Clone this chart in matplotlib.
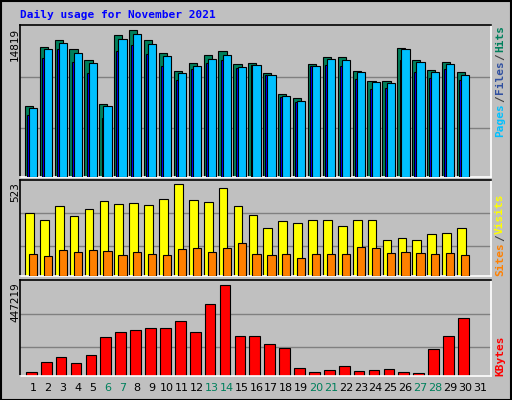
import matplotlib
matplotlib.use("Agg")
import matplotlib.pyplot as plt
import numpy as np

days = list(range(1, 32))
hits = [7150,13030,13770,12830,11720,7350,14320,14819,13770,12430,10690,11430,12230,12630,11330,11430,10420,8310,7910,11330,12030,12030,10690,9690,9690,12940,11720,10790,11530,10520]
files = [6960,12870,13470,12460,11460,7170,13870,14370,13370,12160,10450,11150,11860,12260,11050,11250,10250,8140,7640,11150,11860,11760,10550,9550,9450,12870,11560,10550,11360,10250]
pages = [6260,12000,12870,11560,10450,5960,12670,13270,12360,11150,9740,10850,11460,11760,10950,11250,10250,8040,7540,11150,11250,11150,9850,8840,8940,11760,10550,9950,10850,9740]
visits = [357,318,398,341,381,426,409,415,404,438,523,432,421,500,398,347,273,313,301,318,318,284,318,318,205,216,205,239,244,273]
sites = [127,114,148,136,148,142,120,136,125,120,153,159,136,159,188,125,120,125,102,125,125,125,165,159,131,136,131,125,131,120]
kbytes = [21200,70500,95000,65300,104500,192600,217100,226900,236700,236700,271000,217100,354100,447219,197500,197500,158300,138700,40800,21200,31000,50600,26100,31000,35900,21200,16300,133800,197500,285700]
weekend = {6, 7, 13, 14, 20, 21, 27, 28}

W, H = 512, 400
fig = plt.figure(figsize=(5.12, 4.0), dpi=100, facecolor="#C0C0C0")
fig.patches.append(plt.Rectangle((0.5/W, 0.5/H), 1-1.5/W, 1-1.5/H, transform=fig.transFigure,
                                 fill=False, edgecolor="black", linewidth=1.5))

def ax_px(x0, y0, x1, y1):
    return fig.add_axes([x0/W, 1-y1/H, (x1-x0)/W, (y1-y0)/H])

XL = (0.13, 31.74)
ec = "black"
lw = 0.8

def style(ax, ymax, grids):
    ax.set_facecolor("#C0C0C0")
    ax.set_xlim(*XL)
    ax.set_ylim(0, ymax)
    ax.set_xticks([]); ax.set_yticks([])
    for g in grids:
        ax.axhline(g, color="#808080", linewidth=1, zorder=0)
    for s in ("left", "top"):
        ax.spines[s].set_color("black")
    for s in ("right", "bottom"):
        ax.spines[s].set_color("white")
    for s in ax.spines.values():
        s.set_linewidth(1.2)

d = np.array(days[:30])
ax1 = ax_px(20, 25, 491, 177)
style(ax1, 15290, [10092, 4962])
ax1.bar(d-0.55, hits, width=0.55, align="edge", color="#00805C", edgecolor=ec, linewidth=lw, zorder=2)
ax1.bar(d-0.40, pages, width=0.45, align="edge", color="#0000FF", edgecolor=ec, linewidth=lw, zorder=3)
ax1.bar(d-0.27, files, width=0.55, align="edge", color="#00C0FF", edgecolor=ec, linewidth=lw, zorder=4)

ax2 = ax_px(20, 180, 491, 276)
style(ax2, 546, [358, 170])
ax2.bar(d-0.53, visits, width=0.58, align="edge", color="#FFFF00", edgecolor=ec, linewidth=lw, zorder=2)
ax2.bar(d-0.27, sites, width=0.55, align="edge", color="#FF8000", edgecolor=ec, linewidth=lw, zorder=3)

ax3 = ax_px(20, 280, 491, 376)
style(ax3, 470000, [305000, 143000])
ax3.bar(d-0.47, kbytes, width=0.72, align="edge", color="#FF0000", edgecolor=ec, linewidth=lw, zorder=2)

for i in days:
    ax3.text(i, -0.13, str(i), transform=ax3.get_xaxis_transform(), ha="center", va="center",
             fontsize=8, color="#00805C" if i in weekend else "black")

fig.text(20/W, 1-15/H, "Daily usage for November 2021", color="#0000FF", fontsize=8,
         fontweight="bold", family="DejaVu Sans Mono", va="center", ha="left")

fig.text(15/W, 1-28/H, "14819", rotation=90, fontsize=7.5, va="top", ha="center")
fig.text(15/W, 1-182/H, "523", rotation=90, fontsize=7.5, va="top", ha="center")
fig.text(15/W, 1-282/H, "447219", rotation=90, fontsize=7.5, va="top", ha="center")

renderer = fig.canvas.get_renderer()

def right_label(ybottom, parts):
    # parts listed bottom-to-top (reading direction of rotated text)
    y = ybottom
    for txt, col in parts:
        t = fig.text(500/W, 1-y/H, txt, rotation=90, color=col, fontsize=8, fontweight="bold",
                     family="DejaVu Sans Mono", va="bottom", ha="center")
        bb = t.get_window_extent(renderer)
        y -= bb.height + 1

right_label(137, [("Pages", "#00C0FF"), ("/", "#404040"), ("Files", "#3050A0"), ("/", "#404040"), ("Hits", "#00805C")])
right_label(276, [("Sites", "#FF8000"), ("/", "#404040"), ("Visits", "#FFFF00")])
right_label(376, [("KBytes", "#FF0000")])

fig.savefig("out.png", dpi=100, facecolor=fig.get_facecolor())
